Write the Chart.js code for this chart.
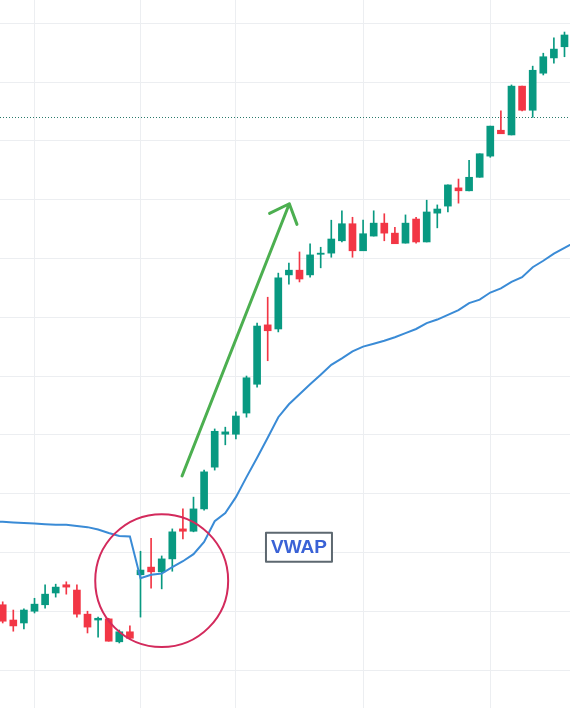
<!DOCTYPE html>
<html>
<head>
<meta charset="utf-8">
<script src="https://cdn.jsdelivr.net/npm/chart.js@4/dist/chart.umd.min.js"></script>
<style>
    html, body { margin: 0; padding: 0; background: #fff; }
    #wrap { width: 570px; height: 708px; }
</style>
</head>
<body>
<div id="wrap"><canvas id="myChart" width="570" height="708"></canvas></div>
<script>
// candles (index = bar number)
const opens = [101.11, 100.85, 100.80, 101.00, 101.11, 101.31, 101.45, 101.36, 100.95, 100.85,
    100.87, 100.48, 100.65, 101.62, 101.75, 101.67, 101.89, 102.40, 102.36, 102.74,
    103.45, 104.01, 104.01, 104.37, 104.86, 105.87, 105.80, 106.72, 106.80, 106.72,
    107.07, 107.09, 107.30, 107.59, 107.13, 107.38, 107.60, 107.43, 107.26, 107.67,
    107.28, 107.77, 107.89, 108.20, 108.15, 108.38, 108.74, 109.18, 109.10, 109.93,
    109.52, 110.15, 110.41, 110.60]
const highs = [101.16, 101.02, 101.04, 101.22, 101.45, 101.46, 101.50, 101.45, 101.00, 100.90,
    100.88, 100.68, 100.75, 102.02, 102.24, 101.94, 102.40, 102.74, 102.94, 103.40,
    104.10, 104.13, 104.39, 105.00, 105.90, 106.34, 106.75, 106.92, 107.11, 107.25,
    107.19, 107.65, 107.81, 107.70, 107.65, 107.81, 107.76, 107.53, 107.74, 107.70,
    107.99, 107.91, 108.25, 108.35, 108.67, 108.78, 109.25, 109.51, 109.95, 109.93,
    110.27, 110.49, 110.75, 110.85]
const lows = [100.80, 100.66, 100.70, 100.97, 101.05, 101.24, 101.29, 100.90, 100.63, 100.56,
    100.49, 100.46, 100.53, 100.90, 101.39, 101.38, 101.68, 102.23, 102.35, 102.72,
    103.40, 103.83, 103.93, 104.30, 104.81, 105.26, 105.75, 106.56, 106.60, 106.68,
    106.84, 107.02, 107.28, 107.02, 107.13, 107.38, 107.30, 107.25, 107.26, 107.26,
    107.28, 107.52, 107.79, 107.94, 108.15, 108.38, 108.72, 109.12, 109.10, 109.51,
    109.40, 110.12, 110.32, 110.43]
const closes = [100.83, 100.75, 101.02, 101.12, 101.29, 101.41, 101.41, 100.95, 100.73, 100.88,
    100.49, 100.65, 100.54, 101.70, 101.67, 101.89, 102.35, 102.36, 102.74, 103.37,
    104.06, 104.05, 104.32, 104.97, 105.85, 105.77, 106.67, 106.80, 106.65, 107.06,
    107.09, 107.33, 107.59, 107.13, 107.42, 107.60, 107.43, 107.25, 107.60, 107.28,
    107.79, 107.84, 108.25, 108.15, 108.38, 108.78, 109.25, 109.12, 109.93, 109.52,
    110.20, 110.43, 110.56, 110.80]

// VWAP from bar -1 (just left of the edge) to bar 54 (just right of it)
const vwapStart = -1
const vwap = [102.53, 102.52, 102.51, 102.50, 102.49, 102.48, 102.47, 102.47, 102.45, 102.43, 102.39,
    102.33, 102.28, 102.27, 101.56, 101.62, 101.64, 101.75, 101.85, 101.97, 102.18,
    102.53, 102.67, 102.94, 103.28, 103.61, 103.95, 104.30, 104.52, 104.69, 104.86,
    105.02, 105.19, 105.30, 105.42, 105.50, 105.55, 105.60, 105.66, 105.73, 105.80,
    105.90, 105.96, 106.04, 106.12, 106.24, 106.30, 106.42, 106.49, 106.60, 106.68,
    106.85, 106.96, 107.08, 107.18, 107.28]

// grid: price levels and session starts (bar index)
const priceTicks = [100, 101, 102, 103, 104, 105, 106, 107, 108, 109, 110, 111]
const sessionTicks = [3, 13, 22, 34, 46]
const lastPrice = 109.40

const UP = '#089981'
const DOWN = '#f23645'
const GRID = '#eceef1'

// drawings on top of the chart, in chart coordinates
const marks = {
    circle: { x: 15, y: 101.52, r: 6.27, color: '#d32a5c', width: 2 },
    arrow: { x0: 16.92, y0: 103.30, x1: 27.04, y1: 107.93, color: '#4caf50', width: 3, head: 22 },
    label: { x: 27.95, y: 102.09, text: 'VWAP', w: 66, h: 29 }
}

const colors = opens.map((o, i) => closes[i] >= o ? UP : DOWN)
const wickData = lows.map((l, i) => ({ x: i, y: [l, highs[i]] }))
const bodyData = opens.map((o, i) => ({ x: i, y: [o, closes[i]] }))
const vwapData = vwap.map((v, i) => ({ x: i + vwapStart, y: v }))

const whiteBg = {
    id: 'whiteBg',
    beforeDraw(chart) {
        const ctx = chart.ctx
        ctx.save()
        ctx.fillStyle = '#fff'
        ctx.fillRect(0, 0, chart.width, chart.height)
        ctx.restore()
    }
}

// dotted last price line, behind the candles
const priceLine = {
    id: 'priceLine',
    beforeDatasetsDraw(chart) {
        const { ctx, chartArea, scales } = chart
        const y = Math.round(scales.y.getPixelForValue(lastPrice)) + 0.5
        ctx.save()
        ctx.strokeStyle = '#2a7a6b'
        ctx.lineWidth = 1
        ctx.setLineDash([1, 2])
        ctx.beginPath()
        ctx.moveTo(chartArea.left, y)
        ctx.lineTo(chartArea.right, y)
        ctx.stroke()
        ctx.restore()
    }
}

const drawings = {
    id: 'drawings',
    afterDatasetsDraw(chart) {
        const { ctx, scales } = chart
        const px = v => scales.x.getPixelForValue(v)
        const py = v => scales.y.getPixelForValue(v)
        ctx.save()

        // circle
        const c = marks.circle
        ctx.strokeStyle = c.color
        ctx.lineWidth = c.width
        ctx.beginPath()
        ctx.arc(px(c.x), py(c.y), px(c.x + c.r) - px(c.x), 0, Math.PI * 2)
        ctx.stroke()

        // arrow
        const a = marks.arrow
        const x0 = px(a.x0), y0 = py(a.y0), x1 = px(a.x1), y1 = py(a.y1)
        const ang = Math.atan2(y0 - y1, x0 - x1)
        ctx.strokeStyle = a.color
        ctx.lineWidth = a.width
        ctx.lineCap = 'round'
        ctx.lineJoin = 'round'
        ctx.beginPath()
        ctx.moveTo(x0, y0)
        ctx.lineTo(x1, y1)
        ctx.moveTo(x1 + a.head * Math.cos(ang + 0.74), y1 + a.head * Math.sin(ang + 0.74))
        ctx.lineTo(x1, y1)
        ctx.lineTo(x1 + a.head * Math.cos(ang - 0.73), y1 + a.head * Math.sin(ang - 0.73))
        ctx.stroke()

        // label
        const l = marks.label
        const lx = px(l.x), ly = py(l.y)
        ctx.fillStyle = '#fff'
        ctx.fillRect(lx - l.w / 2, ly - l.h / 2, l.w, l.h)
        ctx.strokeStyle = '#5d6870'
        ctx.lineWidth = 2
        ctx.strokeRect(lx - l.w / 2, ly - l.h / 2, l.w, l.h)
        ctx.fillStyle = '#3a62d6'
        ctx.font = 'bold 19px "Liberation Sans", Arial, sans-serif'
        ctx.textAlign = 'center'
        ctx.textBaseline = 'middle'
        ctx.fillText(l.text, lx, ly + 1)

        ctx.restore()
    }
}

const config = {
    type: 'bar',
    data: {
        datasets: [
            {
                type: 'line',
                label: 'VWAP',
                data: vwapData,
                borderColor: '#3a8bd6',
                borderWidth: 2,
                pointRadius: 0,
                tension: 0,
                order: 0
            },
            {
                label: 'body',
                data: bodyData,
                backgroundColor: colors,
                barThickness: 7,
                minBarLength: 1,
                grouped: false,
                order: 1
            },
            {
                label: 'wick',
                data: wickData,
                backgroundColor: colors,
                barThickness: 1,
                grouped: false,
                order: 2
            }
        ]
    },
    options: {
        responsive: false,
        animation: false,
        layout: { padding: 0 },
        plugins: {
            legend: { display: false },
            tooltip: { enabled: false }
        },
        scales: {
            x: {
                type: 'linear',
                min: -0.255,
                max: 53.52,
                offset: false,
                afterBuildTicks: s => { s.ticks = sessionTicks.map(v => ({ value: v })) },
                ticks: { display: false },
                grid: { color: GRID, drawTicks: false, offset: false },
                border: { display: false }
            },
            y: {
                min: 99.354,
                max: 111.395,
                afterBuildTicks: s => { s.ticks = priceTicks.map(v => ({ value: v })) },
                ticks: { display: false },
                grid: { color: GRID, drawTicks: false },
                border: { display: false }
            }
        }
    },
    plugins: [whiteBg, priceLine, drawings]
}

const myChart = new Chart(document.getElementById('myChart'), config)
</script>
</body>
</html>
